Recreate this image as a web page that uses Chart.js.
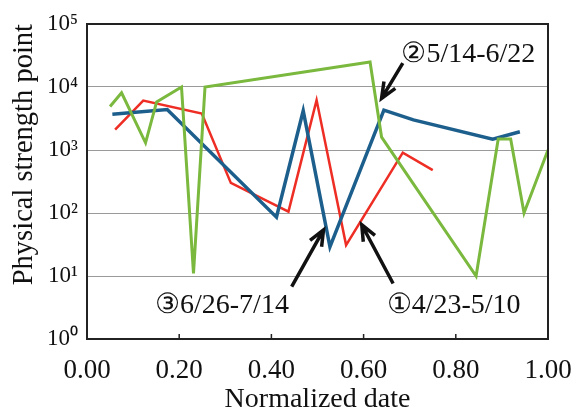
<!DOCTYPE html>
<html>
<head>
<meta charset="utf-8">
<script src="https://cdn.jsdelivr.net/npm/chart.js@4.4.0/dist/chart.umd.min.js"></script>
<style>
  html, body { margin: 0; padding: 0; background: #fff; }
  #wrap { width: 573px; height: 414px; }
</style>
</head>
<body>
<div id="wrap"><canvas id="chart" width="573" height="414"></canvas></div>
<script>
// series (x = normalized date, y = physical strength point)
const greenX = [0.050, 0.075, 0.127, 0.151, 0.205, 0.231, 0.256, 0.614, 0.639, 0.844, 0.892, 0.919, 0.948, 1.000];
const greenY = [4900, 8100, 1300, 5800, 10000, 11, 10000, 25000, 1600, 10, 1500, 1500, 100, 1000];

const redX = [0.061, 0.122, 0.249, 0.312, 0.437, 0.498, 0.562, 0.685, 0.750];
const redY = [2100, 6100, 3800, 300, 105, 6200, 31, 910, 480];

const blueX = [0.055, 0.174, 0.411, 0.469, 0.527, 0.644, 0.708, 0.880, 0.939];
const blueY = [3700, 4400, 86, 4200, 29, 4300, 3000, 1480, 1950];

const xTicks = [0, 0.2, 0.4, 0.6, 0.8, 1.0];
const xTickLabels = ["0.00", "0.20", "0.40", "0.60", "0.80", "1.00"];
const yTicks = [1, 10, 100, 1000, 10000, 100000];
const yTickLabels = ["10\u2070", "10\u00b9", "10\u00b2", "10\u00b3", "10\u2074", "10\u2075"];

// period labels with arrows, in data coordinates
const notes = [
  { text: "\u24615/14-6/22", tx: 0.682, ty: 25000, from: [0.685, 24000], to: [0.639, 6600] },
  { text: "\u24626/26-7/14", tx: 0.1475, ty: 2.56, from: [0.444, 6.8], to: [0.513, 54] },
  { text: "\u24604/23-5/10", tx: 0.650, ty: 2.56, from: [0.664, 7.6], to: [0.596, 65] }
];

const serif = "'Liberation Serif', 'Times New Roman', serif";

function toPoints(xs, ys) {
  return xs.map((x, i) => ({ x: x, y: ys[i] }));
}

function arrow(ctx, x1, y1, x2, y2) {
  const a = Math.atan2(y2 - y1, x2 - x1);
  const len = 17, spread = 0.4;
  ctx.beginPath();
  ctx.moveTo(x1, y1);
  ctx.lineTo(x2, y2);
  ctx.moveTo(x2 - len * Math.cos(a - spread), y2 - len * Math.sin(a - spread));
  ctx.lineTo(x2, y2);
  ctx.lineTo(x2 - len * Math.cos(a + spread), y2 - len * Math.sin(a + spread));
  ctx.stroke();
}

const extras = {
  id: "extras",
  afterDatasetsDraw(chart) {
    const ctx = chart.ctx;
    const area = chart.chartArea;
    const sx = chart.scales.x, sy = chart.scales.y;
    ctx.save();
    // frame
    ctx.strokeStyle = "#222";
    ctx.lineWidth = 2;
    ctx.strokeRect(area.left, area.top, area.right - area.left, area.bottom - area.top);
    // inward ticks on the x axis
    ctx.lineWidth = 1.5;
    ctx.beginPath();
    xTicks.slice(1, -1).forEach(v => {
      const px = sx.getPixelForValue(v);
      ctx.moveTo(px, area.bottom);
      ctx.lineTo(px, area.bottom - 5);
    });
    ctx.stroke();
    // arrows and labels
    ctx.strokeStyle = "#111";
    ctx.lineWidth = 3.5;
    ctx.fillStyle = "#111";
    ctx.font = "28px " + serif;
    ctx.textAlign = "left";
    ctx.textBaseline = "alphabetic";
    notes.forEach(n => {
      arrow(ctx,
        sx.getPixelForValue(n.from[0]), sy.getPixelForValue(n.from[1]),
        sx.getPixelForValue(n.to[0]), sy.getPixelForValue(n.to[1]));
      ctx.fillText(n.text, sx.getPixelForValue(n.tx), sy.getPixelForValue(n.ty));
    });
    ctx.restore();
  }
};

new Chart(document.getElementById("chart"), {
  type: "line",
  data: {
    datasets: [
      { label: "green", data: toPoints(greenX, greenY), borderColor: "#7ab83e", borderWidth: 3, pointRadius: 0, tension: 0 },
      { label: "blue", data: toPoints(blueX, blueY), borderColor: "#1d5f8c", borderWidth: 3.5, pointRadius: 0, tension: 0 },
      { label: "red", data: toPoints(redX, redY), borderColor: "#ee2e24", borderWidth: 2.5, pointRadius: 0, tension: 0 }
    ]
  },
  options: {
    responsive: false,
    animation: false,
    layout: { padding: { top: 24, right: 25, left: 0, bottom: 0 } },
    plugins: { legend: { display: false }, tooltip: { enabled: false } },
    scales: {
      x: {
        type: "linear",
        min: 0,
        max: 1,
        afterBuildTicks: s => { s.ticks = xTicks.map(v => ({ value: v })); },
        afterFit: s => { s.height = 75; s.paddingLeft = 0; s.paddingRight = 0; },
        grid: { display: false, drawTicks: false },
        border: { display: false },
        ticks: {
          callback: v => xTickLabels[xTicks.indexOf(v)],
          font: { family: serif, size: 27 },
          color: "#111",
          padding: 16,
          maxRotation: 0,
          autoSkip: false
        },
        title: {
          display: true,
          text: "Normalized date",
          font: { family: serif, size: 28, lineHeight: 1 },
          color: "#111",
          padding: 0
        }
      },
      y: {
        type: "logarithmic",
        min: 1,
        max: 100000,
        afterBuildTicks: s => { s.ticks = yTicks.map(v => ({ value: v })); },
        afterFit: s => { s.width = 87; s.paddingTop = 0; s.paddingBottom = 0; },
        grid: { color: "#9a9a9a", lineWidth: 1, drawTicks: false },
        border: { display: false },
        ticks: {
          callback: v => yTickLabels[yTicks.indexOf(v)],
          font: { family: serif, size: 23 },
          color: "#111",
          padding: 9
        },
        title: {
          display: true,
          text: "Physical strength point",
          align: "end",
          font: { family: serif, size: 28.5, lineHeight: 1 },
          color: "#111",
          padding: { top: 10, bottom: 0 }
        }
      }
    }
  },
  plugins: [extras]
});
</script>
</body>
</html>
